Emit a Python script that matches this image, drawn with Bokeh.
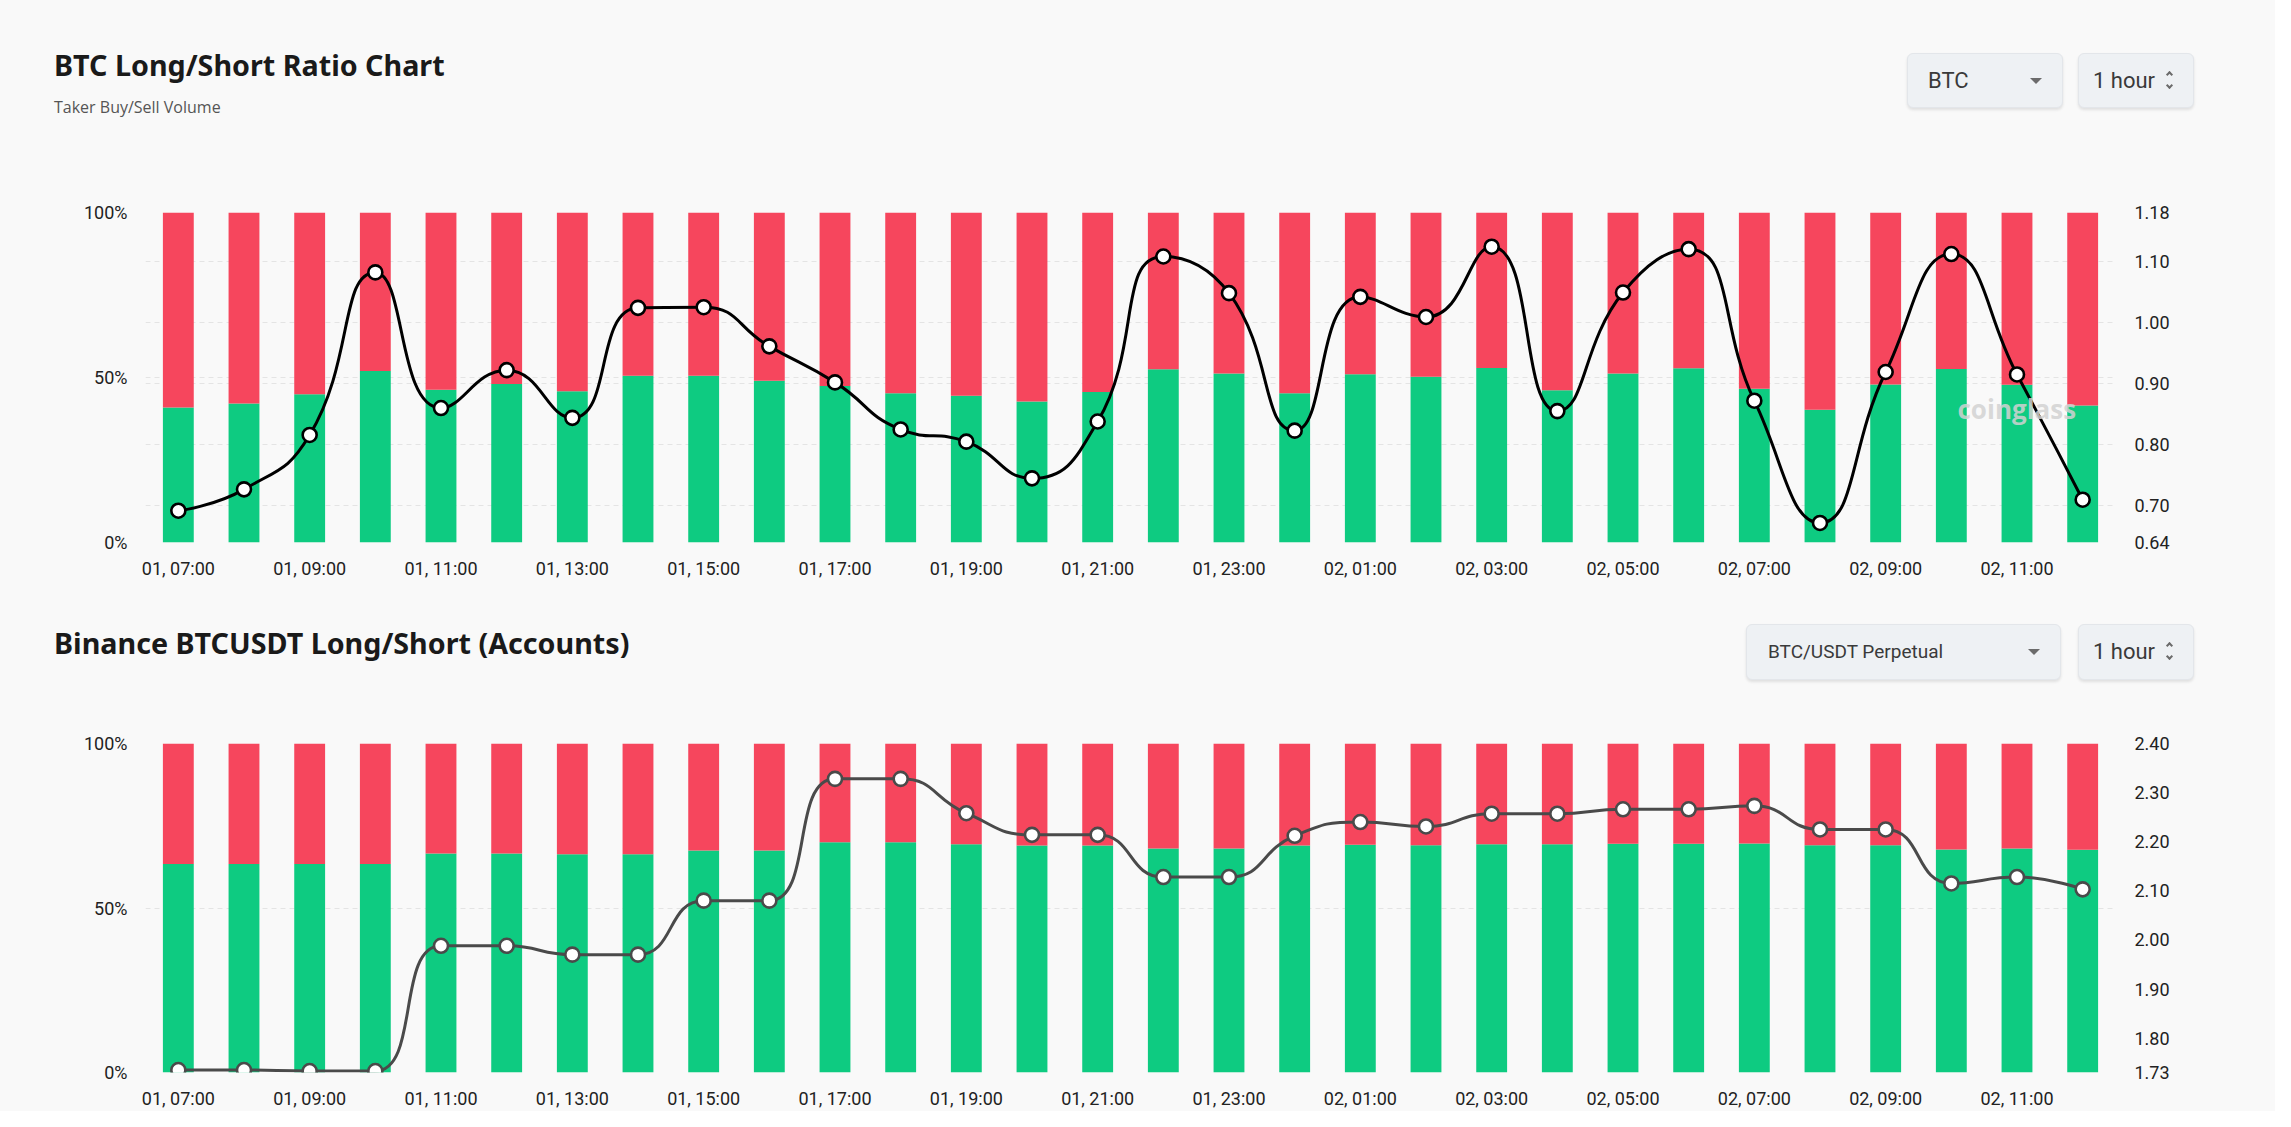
import math
from bokeh.plotting import figure
from bokeh.models import (Range1d, LinearAxis, FixedTicker, Grid, Label, Div,
                          NumeralTickFormatter)
from bokeh.layouts import column
from bokeh.embed import file_html
from bokeh.resources import INLINE

# ---------------- data ----------------
hours = ["01, 07:00", "01, 08:00", "01, 09:00", "01, 10:00", "01, 11:00", "01, 12:00",
         "01, 13:00", "01, 14:00", "01, 15:00", "01, 16:00", "01, 17:00", "01, 18:00",
         "01, 19:00", "01, 20:00", "01, 21:00", "01, 22:00", "01, 23:00", "02, 00:00",
         "02, 01:00", "02, 02:00", "02, 03:00", "02, 04:00", "02, 05:00", "02, 06:00",
         "02, 07:00", "02, 08:00", "02, 09:00", "02, 10:00", "02, 11:00", "02, 12:00"]

taker_long_pct = [40.9, 42.1, 44.9, 52.0, 46.3, 48.0, 45.8, 50.5, 50.5, 49.0,
                  47.4, 45.2, 44.5, 42.7, 45.6, 52.5, 51.2, 45.2, 51.0, 50.2,
                  52.9, 46.1, 51.2, 52.8, 46.6, 40.2, 47.9, 52.6, 47.8, 41.5]
taker_ratio = [0.692, 0.727, 0.816, 1.082, 0.860, 0.922, 0.844, 1.024, 1.025, 0.961,
               0.902, 0.825, 0.805, 0.745, 0.838, 1.108, 1.048, 0.823, 1.042, 1.009,
               1.124, 0.855, 1.049, 1.120, 0.872, 0.672, 0.919, 1.112, 0.915, 0.710]

acct_long_pct = [63.4, 63.4, 63.4, 63.4, 66.6, 66.6, 66.3, 66.3, 67.5, 67.5,
                 70.0, 70.0, 69.4, 69.0, 69.0, 68.1, 68.1, 69.0, 69.2, 69.1,
                 69.4, 69.4, 69.5, 69.5, 69.6, 69.1, 69.1, 67.8, 68.1, 67.7]
acct_ratio = [1.735, 1.735, 1.733, 1.733, 1.988, 1.988, 1.970, 1.970, 2.080, 2.080,
              2.328, 2.328, 2.258, 2.214, 2.214, 2.128, 2.128, 2.212, 2.240, 2.231,
              2.257, 2.257, 2.266, 2.266, 2.273, 2.225, 2.225, 2.115, 2.128, 2.103]

pct_ticks = [0, 50, 100]
pct_labels = ["0%", "50%", "100%"]
taker_ratio_ticks = [0.64, 0.70, 0.80, 0.90, 1.00, 1.10, 1.18]
acct_ratio_ticks = [1.73, 1.80, 1.90, 2.00, 2.10, 2.20, 2.30, 2.40]

GREEN = "#0ecb81"
RED = "#f6465d"
BG = "#f9f9f9"
W = 2275
FL = 145          # frame left inside figure
FR = 160          # right border
FRAME_W = W - FL - FR
FRAME_H = 330
N = len(hours)


def smooth_segments(xs, ys, sx, sy, smooth=0.5):
    """ECharts-like smoothing; returns bezier control points in data space."""
    pts = [(x * sx, y * sy) for x, y in zip(xs, ys)]
    n = len(pts)
    out = {k: [] for k in ("x0", "y0", "x1", "y1", "cx0", "cy0", "cx1", "cy1")}
    cp0 = pts[0]
    for i in range(1, n):
        px_, py_ = pts[i - 1]
        x, y = pts[i]
        if i == n - 1:
            cp1 = (x, y)
            ncp0 = None
        else:
            nx, ny = pts[i + 1]
            vx, vy = nx - px_, ny - py_
            lp = math.hypot(x - px_, y - py_)
            ln = math.hypot(nx - x, ny - y)
            r = ln / (ln + lp)
            ncx = x + vx * smooth * r
            ncy = y + vy * smooth * r
            ncx = max(min(ncx, max(nx, x)), min(nx, x))
            ncy = max(min(ncy, max(ny, y)), min(ny, y))
            vx, vy = ncx - x, ncy - y
            c1x = x - vx * lp / ln
            c1y = y - vy * lp / ln
            c1x = max(min(c1x, max(px_, x)), min(px_, x))
            c1y = max(min(c1y, max(py_, y)), min(py_, y))
            vx, vy = x - c1x, y - c1y
            ncx = x + vx * ln / lp
            ncy = y + vy * ln / lp
            cp1 = (c1x, c1y)
            ncp0 = (ncx, ncy)
        out["x0"].append(px_ / sx); out["y0"].append(py_ / sy)
        out["x1"].append(x / sx); out["y1"].append(y / sy)
        out["cx0"].append(cp0[0] / sx); out["cy0"].append(cp0[1] / sy)
        out["cx1"].append(cp1[0] / sx); out["cy1"].append(cp1[1] / sy)
        cp0 = ncp0
    return out


def make_chart(height, top_border, long_pct, ratio, rticks, line_color, right_grid):
    p = figure(width=W, height=height, output_backend="svg", toolbar_location=None,
               x_range=Range1d(-0.5, N - 0.5), y_range=Range1d(0, 100),
               min_border_left=FL, min_border_right=FR, min_border_top=top_border,
               min_border_bottom=height - top_border - FRAME_H,
               background_fill_color=BG, border_fill_color=BG, outline_line_color=None)
    rlo, rhi = rticks[0], rticks[-1]
    p.extra_y_ranges = {"ratio": Range1d(rlo, rhi)}
    xs = list(range(N))
    short_top = [100] * N
    p.vbar(x=xs, bottom=0, top=long_pct, width=0.47, fill_color=GREEN, line_color=None)
    p.vbar(x=xs, bottom=long_pct, top=short_top, width=0.47, fill_color=RED, line_color=None)

    sx = FRAME_W / N
    sy = FRAME_H / (rhi - rlo)
    seg = smooth_segments(xs, ratio, sx, sy)
    p.bezier(x0=seg["x0"], y0=seg["y0"], x1=seg["x1"], y1=seg["y1"],
             cx0=seg["cx0"], cy0=seg["cy0"], cx1=seg["cx1"], cy1=seg["cy1"],
             line_color=line_color, line_width=3, y_range_name="ratio")
    p.scatter(x=xs, y=ratio, size=14, fill_color="white", line_color=line_color,
              line_width=2.6, y_range_name="ratio")

    ax = p.xaxis[0]
    ax.ticker = FixedTicker(ticks=list(range(0, N, 2)))
    ax.major_label_overrides = {i: hours[i] for i in range(0, N, 2)}
    ay = p.yaxis[0]
    ay.ticker = FixedTicker(ticks=pct_ticks)
    ay.major_label_overrides = {t: l for t, l in zip(pct_ticks, pct_labels)}
    ray = LinearAxis(y_range_name="ratio", ticker=FixedTicker(ticks=rticks),
                     formatter=NumeralTickFormatter(format="0.00"))
    p.add_layout(ray, "right")
    for a in (ax, ay, ray):
        a.axis_line_color = None
        a.major_tick_line_color = None
        a.minor_tick_line_color = None
        a.major_label_text_font = "Roboto"
        a.major_label_text_font_size = "18px"
        a.major_label_text_color = "#222222"
    ax.major_label_standoff = 9
    ay.major_label_standoff = 12
    ray.major_label_standoff = 13

    p.xgrid.grid_line_color = None
    p.ygrid.ticker = FixedTicker(ticks=pct_ticks)
    p.ygrid.grid_line_color = "#e4e4e4"
    p.ygrid.grid_line_dash = "5 4"
    if right_grid:
        g = Grid(dimension=1, ticker=FixedTicker(ticks=rticks), y_range_name="ratio",
                 grid_line_color="#e4e4e4", grid_line_dash="5 4")
        p.add_layout(g)
    return p


# ---------------- header (HTML) ----------------
def abs_text(left, top, text, size, font, weight=400, color="#1a1a1a"):
    return (f'<div style="position:absolute;left:{left}px;top:{top}px;'
            f'font-family:\'{font}\';font-size:{size}px;line-height:{size}px;'
            f'font-weight:{weight};color:{color};white-space:nowrap;">{text}</div>')


def select_box(left, top, width, height, label, label_size, pad, icon):
    box = (f'<div style="position:absolute;left:{left}px;top:{top}px;width:{width}px;'
           f'height:{height}px;box-sizing:border-box;background:#eef1f4;'
           f'border:1px solid #e3e6ea;border-radius:6px;'
           f'box-shadow:0 2px 3px rgba(0,0,0,0.10);">'
           f'<div style="position:absolute;left:{pad}px;top:0;height:{height - 2}px;'
           f'line-height:{height - 2}px;font-family:\'Roboto\';font-size:{label_size}px;'
           f'color:#3a3a3a;white-space:nowrap;">{label}</div>')
    if icon == "caret":
        box += (f'<div style="position:absolute;right:{20}px;top:{height / 2 - 4}px;'
                f'width:0;height:0;border-left:6px solid transparent;'
                f'border-right:6px solid transparent;border-top:6px solid #6b6b6b;"></div>')
    else:
        box += (f'<div style="position:absolute;right:{21}px;top:{height / 2 - 10}px;'
                f'width:5px;height:5px;border-left:2px solid #6b6b6b;'
                f'border-top:2px solid #6b6b6b;transform:rotate(45deg);"></div>'
                f'<div style="position:absolute;right:{21}px;top:{height / 2 + 1}px;'
                f'width:5px;height:5px;border-right:2px solid #6b6b6b;'
                f'border-bottom:2px solid #6b6b6b;transform:rotate(45deg);"></div>')
    box += '</div>'
    return box


def header_div(height, inner):
    html = (f'<div style="position:relative;width:{W}px;height:{height + 2}px;'
            f'background:{BG};overflow:hidden;">{inner}</div>')
    return Div(text=html, width=W, height=height, margin=(0, 0, 0, 0),
               styles={"background-color": BG, "overflow": "visible"})


H_HEAD1 = 130
inner1 = (abs_text(54, 51, "BTC Long/Short Ratio Chart", 28.7, "Noto Sans", 700)
          + abs_text(54, 99, "Taker Buy/Sell Volume", 16, "Open Sans", 400, "#555555")
          + select_box(1907, 53, 156, 55, "BTC", 22, 20, "caret")
          + select_box(2078, 53, 116, 55, "1 hour", 22, 14, "updown"))
h1 = header_div(H_HEAD1, inner1)

H1 = 470
TOP1 = 212 - H_HEAD1
p1 = make_chart(H1, TOP1, taker_long_pct, taker_ratio, taker_ratio_ticks, "#000000", True)
p1.add_layout(Label(x=1957 - FL, y=(TOP1 + FRAME_H) - (408 - H_HEAD1),
                    x_units="screen", y_units="screen", text="coinglass",
                    text_font="Open Sans", text_font_style="bold", text_font_size="26px",
                    text_color="#d2d2d2", text_baseline="middle", text_alpha=0.85))

TOP_H2 = 600
H_HEAD2 = 100
inner2 = (abs_text(54, 655 - 26 - TOP_H2, "Binance BTCUSDT Long/Short (Accounts)", 28.7,
                   "Noto Sans", 700)
          + select_box(1746, 624 - TOP_H2, 315, 56, "BTC/USDT Perpetual", 19, 21, "caret")
          + select_box(2078, 624 - TOP_H2, 116, 56, "1 hour", 22, 14, "updown"))
h2 = header_div(H_HEAD2, inner2)

H2 = 411
TOP2 = 743 - (TOP_H2 + H_HEAD2)
p2 = make_chart(H2, TOP2, acct_long_pct, acct_ratio, acct_ratio_ticks, "#4a4a4a", False)

layout = column(h1, p1, h2, p2, spacing=0, styles={"background-color": BG})
open("out.html", "w").write(file_html(layout, INLINE))
